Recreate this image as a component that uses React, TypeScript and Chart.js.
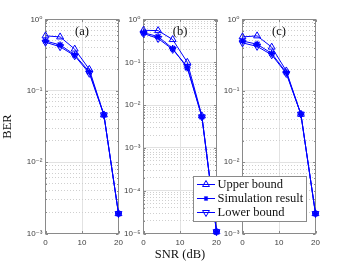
import React, { useEffect, useRef } from 'react';
import { Chart, registerables } from 'chart.js';
Chart.register(...registerables);

// ---------------- data ----------------
const snr = [0, 4, 8, 12, 16, 20];
const xTickValues = [0, 10, 20];

const upperA = [0.59, 0.57, 0.385, 0.2, 0.046, 0.0019];
const simA = [0.5, 0.44, 0.32, 0.185, 0.046, 0.0019];
const lowerA = [0.48, 0.415, 0.31, 0.176, 0.046, 0.0019];

const upperB = [0.56, 0.55, 0.34, 0.1, 0.0056, 1.1e-5];
const simB = [0.49, 0.4, 0.21, 0.074, 0.0053, 1.1e-5];
const lowerB = [0.47, 0.36, 0.2, 0.079, 0.0053, 1.1e-5];

const upperC = [0.57, 0.59, 0.41, 0.19, 0.047, 0.0019];
const simC = [0.5, 0.45, 0.335, 0.18, 0.047, 0.0019];
const lowerC = [0.47, 0.42, 0.32, 0.175, 0.047, 0.0019];

const panelLabels = ['(a)', '(b)', '(c)'];
const yMins = [1e-3, 1e-5, 1e-3];
const yMax = 1;
const seriesNames = ['Upper bound', 'Simulation result', 'Lower bound'];
const xTitle = 'SNR (dB)';
const yTitle = 'BER';

// ---------------- layout / style ----------------
const W = 350;
const H = 263;
const plotLefts = [45.5, 143.5, 242.5];
const plotWidth = 73;
const plotTop = 19.5;
const plotBottom = 233.5;
const Y_W = 45;
const X_H = 29.5;

const BLUE = 'rgb(0,0,255)';
const AXIS = '#8a8a8a';
const TICK_TXT = '#404040';
const MAJOR_GRID = '#e2e2e2';
const MINOR_GRID = '#cfcfcf';
const SANS = "'Liberation Sans', 'DejaVu Sans', Arial, sans-serif";
const SERIF = "'Liberation Serif', 'Times New Roman', serif";

const isDecade = (v: number) => Math.abs(Math.log10(v) - Math.round(Math.log10(v))) < 1e-6;
const sup = (n: number) =>
  String(n)
    .split('')
    .map((c) => (c === '-' ? '⁻' : '⁰¹²³⁴⁵⁶⁷⁸⁹'[+c]))
    .join('');

function logTicks(min: number, max: number) {
  const out: { value: number; major: boolean }[] = [];
  const e0 = Math.round(Math.log10(min));
  const e1 = Math.round(Math.log10(max));
  for (let e = e0; e <= e1; e++) {
    for (let s = 1; s <= 9; s++) {
      const v = Number((s * Math.pow(10, e)).toPrecision(6));
      if (v >= min * 0.999999 && v <= max * 1.000001) out.push({ value: v, major: s === 1 });
    }
  }
  return out;
}

function drawTri(ctx: CanvasRenderingContext2D, x: number, y: number, r: number, down: boolean) {
  let rad = down ? Math.PI : 0;
  ctx.beginPath();
  for (let k = 0; k < 3; k++) {
    const px = x + Math.sin(rad) * r;
    const py = y - Math.cos(rad) * r;
    if (k === 0) ctx.moveTo(px, py);
    else ctx.lineTo(px, py);
    rad += (2 * Math.PI) / 3;
  }
  ctx.closePath();
  ctx.stroke();
}

function drawStar(ctx: CanvasRenderingContext2D, x: number, y: number, r: number) {
  ctx.beginPath();
  ctx.moveTo(x, y - r);
  ctx.lineTo(x, y + r);
  ctx.moveTo(x - r, y);
  ctx.lineTo(x + r, y);
  const d = r * Math.SQRT1_2;
  ctx.moveTo(x - d, y - d);
  ctx.lineTo(x + d, y + d);
  ctx.moveTo(x - d, y + d);
  ctx.lineTo(x + d, y - d);
  ctx.stroke();
}

function makeConfig(i: number): any {
  const data = [
    [upperA, simA, lowerA],
    [upperB, simB, lowerB],
    [upperC, simC, lowerC],
  ][i];
  const left = plotLefts[i];
  const styles = [
    { pointStyle: 'triangle', rotation: 0, radius: 4, bw: 1 },
    { pointStyle: 'star', rotation: 0, radius: 3.4, bw: 1.4 },
    { pointStyle: 'triangle', rotation: 180, radius: 4, bw: 1 },
  ];
  const datasets = data.map((vals, k) => ({
    label: seriesNames[k],
    data: vals.map((v, j) => ({ x: snr[j], y: v })),
    borderColor: BLUE,
    backgroundColor: 'rgba(0,0,0,0)',
    borderWidth: 1,
    pointStyle: styles[k].pointStyle,
    pointRotation: styles[k].rotation,
    pointRadius: styles[k].radius,
    pointBorderWidth: styles[k].bw,
    pointBorderColor: BLUE,
    pointBackgroundColor: 'rgba(0,0,0,0)',
    fill: false,
    tension: 0,
    clip: false,
  }));

  const framePlugin = {
    id: 'frame' + i,
    beforeDatasetsDraw(chart: any) {
      const { ctx, chartArea: a } = chart;
      const ys = chart.scales.y;
      const xs = chart.scales.x;
      ctx.save();
      ctx.strokeStyle = AXIS;
      ctx.lineWidth = 1;
      // inward ticks
      ctx.beginPath();
      ys.ticks.forEach((t: any) => {
        const y = Math.round(ys.getPixelForValue(t.value)) + 0.5;
        const len = isDecade(t.value) ? 2.5 : 1.5;
        ctx.moveTo(a.left, y);
        ctx.lineTo(a.left + len, y);
        ctx.moveTo(a.right, y);
        ctx.lineTo(a.right - len, y);
      });
      xTickValues.forEach((v) => {
        const x = Math.round(xs.getPixelForValue(v)) + 0.5;
        ctx.moveTo(x, a.bottom);
        ctx.lineTo(x, a.bottom - 2.5);
        ctx.moveTo(x, a.top);
        ctx.lineTo(x, a.top + 2.5);
      });
      ctx.stroke();
      ctx.strokeRect(a.left, a.top, a.right - a.left, a.bottom - a.top);
      ctx.restore();
    },
    afterDatasetsDraw(chart: any) {
      const { ctx, chartArea: a } = chart;
      ctx.save();
      ctx.fillStyle = '#111';
      ctx.font = `12.5px ${SERIF}`;
      ctx.textAlign = 'center';
      ctx.textBaseline = 'middle';
      ctx.fillText(panelLabels[i], (a.left + a.right) / 2, 31.5);
      ctx.restore();
    },
    afterDraw(chart: any) {
      if (i !== 2) return;
      const ctx = chart.ctx as CanvasRenderingContext2D;
      const bx = 193.5,
        by = 176.5,
        bw = 113,
        bh = 45;
      ctx.save();
      ctx.fillStyle = '#ffffff';
      ctx.fillRect(bx, by, bw, bh);
      ctx.strokeStyle = AXIS;
      ctx.lineWidth = 1;
      ctx.strokeRect(bx, by, bw, bh);
      const rowY = [184, 198, 212];
      seriesNames.forEach((name, k) => {
        const y = rowY[k] + 0.5;
        ctx.strokeStyle = BLUE;
        ctx.lineWidth = 1;
        ctx.beginPath();
        ctx.moveTo(197, y);
        ctx.lineTo(215, y);
        ctx.stroke();
        if (k === 0) drawTri(ctx, 206, y, 4, false);
        if (k === 1) {
          ctx.lineWidth = 1.2;
          drawStar(ctx, 206, y, 2.6);
        }
        if (k === 2) drawTri(ctx, 206, y, 4, true);
        ctx.fillStyle = '#111';
        ctx.font = `12.5px ${SERIF}`;
        ctx.textAlign = 'left';
        ctx.textBaseline = 'middle';
        ctx.fillText(name, 217.5, y + 0.5);
      });
      ctx.restore();
    },
  };

  return {
    type: 'line',
    data: { datasets },
    plugins: [framePlugin],
    options: {
      animation: false,
      responsive: false,
      maintainAspectRatio: false,
      events: [],
      layout: {
        padding: {
          left: left - Y_W,
          right: W - (left + plotWidth),
          top: plotTop,
          bottom: H - plotBottom - X_H,
        },
      },
      plugins: { legend: { display: false }, tooltip: { enabled: false }, title: { display: false } },
      scales: {
        x: {
          type: 'linear',
          min: 0,
          max: 20,
          position: 'bottom',
          afterFit: (s: any) => {
            s.height = X_H;
          },
          afterBuildTicks: (s: any) => {
            s.ticks = xTickValues.map((v) => ({ value: v }));
          },
          ticks: {
            autoSkip: false,
            maxRotation: 0,
            padding: 4.5,
            color: TICK_TXT,
            font: { family: SANS, size: 8 },
            callback: (v: any) => String(v),
          },
          grid: {
            drawTicks: false,
            color: (c: any) => (c.tick && c.tick.value === 10 ? MAJOR_GRID : 'rgba(0,0,0,0)'),
            lineWidth: 1,
          },
          border: { display: false },
          title: {
            display: i === 1,
            text: xTitle,
            color: '#111',
            font: { family: SERIF, size: 12.5, lineHeight: 1.2 },
            padding: { top: 0, bottom: 0.5 },
          },
        },
        y: {
          type: 'logarithmic',
          min: yMins[i],
          max: yMax,
          position: 'left',
          afterFit: (s: any) => {
            s.width = Y_W;
          },
          afterBuildTicks: (s: any) => {
            s.ticks = logTicks(yMins[i], yMax);
          },
          ticks: {
            autoSkip: false,
            padding: 3,
            color: TICK_TXT,
            font: { family: SANS, size: 8 },
            callback: (v: any) => (isDecade(v) ? '10' + sup(Math.round(Math.log10(v))) : ''),
          },
          grid: {
            drawTicks: false,
            color: (c: any) => (c.tick && isDecade(c.tick.value) ? MAJOR_GRID : 'rgba(0,0,0,0)'),
            lineWidth: 1,
          },
          border: { display: false },
          title: {
            display: i === 0,
            text: yTitle,
            color: '#111',
            font: { family: SERIF, size: 12.5, lineHeight: 1.2 },
            padding: { top: 0, bottom: 0 },
          },
        },
        y2: {
          type: 'logarithmic',
          min: yMins[i],
          max: yMax,
          position: 'left',
          afterFit: (s: any) => {
            s.width = 0;
          },
          afterBuildTicks: (s: any) => {
            s.ticks = logTicks(yMins[i], yMax);
          },
          ticks: { display: false, autoSkip: false },
          grid: {
            drawTicks: false,
            color: (c: any) => (c.tick && !isDecade(c.tick.value) ? MINOR_GRID : 'rgba(0,0,0,0)'),
            lineWidth: 1,
          },
          border: { display: false, dash: [1, 2] },
        },
      },
    },
  };
}

export default function App() {
  const r0 = useRef<HTMLCanvasElement>(null);
  const r1 = useRef<HTMLCanvasElement>(null);
  const r2 = useRef<HTMLCanvasElement>(null);
  const refs = [r0, r1, r2];

  useEffect(() => {
    const charts = refs.map((r, i) => new Chart(r.current as HTMLCanvasElement, makeConfig(i)));
    return () => charts.forEach((c) => c.destroy());
  }, []);

  return (
    <div style={{ position: 'absolute', left: 0, top: 0, width: W, height: H, background: '#fff' }}>
      {refs.map((r, i) => (
        <canvas
          key={i}
          ref={r}
          width={W}
          height={H}
          style={{ position: 'absolute', left: 0, top: 0, width: W, height: H }}
        />
      ))}
    </div>
  );
}
